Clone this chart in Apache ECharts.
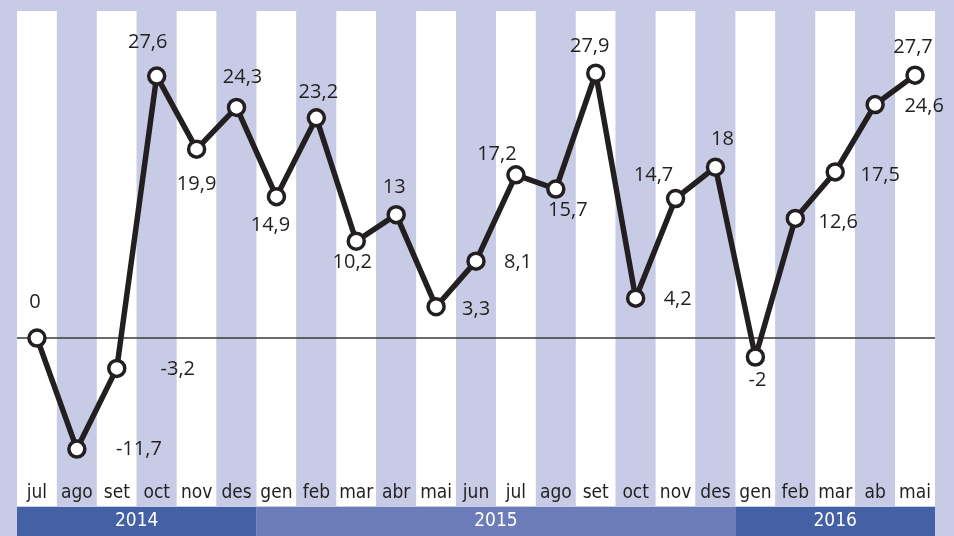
<!DOCTYPE html>
<html>
<head>
<meta charset="utf-8">
<script src="https://cdn.jsdelivr.net/npm/echarts@6/dist/echarts.min.js"></script>
<style>
  html, body { margin: 0; padding: 0; background: #c7cbe6; }
  #main { width: 954px; height: 536px; }
</style>
</head>
<body>
<div id="main"></div>
<script>
  // mesos (jul 2014 - mai 2016)
  var months = ['jul', 'ago', 'set', 'oct', 'nov', 'des', 'gen', 'feb', 'mar', 'abr', 'mai', 'jun',
    'jul', 'ago', 'set', 'oct', 'nov', 'des', 'gen', 'feb', 'mar', 'ab', 'mai']
  var values = [0, -11.7, -3.2, 27.6, 19.9, 24.3, 14.9, 23.2, 10.2, 13, 3.3, 8.1,
    17.2, 15.7, 27.9, 4.2, 14.7, 18, -2, 12.6, 17.5, 24.6, 27.7]
  var years = ['2014', '2015', '2016']
  var yearMonthCounts = [6, 12, 5]

  // on va cada etiqueta respecte al punt
  var labelOffsets = [[-2, -36], [62, 0], [61, 1], [-9, -34], [0, 35], [6, -30], [-6, 29], [2, -26],
    [-4, 21], [-2, -27], [40, 3], [42, 1], [-19, -21], [12, 21], [-6, -27], [42, 1], [-22, -23],
    [7, -28], [2, 23], [43, 4], [45, 3], [49, 2], [-2, -28]]
  var yearColors = ['#4361a4', '#6b7cb9', '#4361a4']
  var narrowFont = 'Liberation Sans Narrow, DejaVu Sans Condensed, sans-serif'

  var myChart = echarts.init(document.getElementById('main'))

  var yearSeries = years.map(function (y, i) {
    return {
      type: 'bar',
      stack: 'anys',
      xAxisIndex: 1,
      yAxisIndex: 1,
      barWidth: '100%',
      silent: true,
      itemStyle: { color: yearColors[i] },
      label: {
        show: true,
        position: 'inside',
        formatter: y,
        color: '#fff',
        fontSize: 19,
        fontFamily: narrowFont
      },
      data: [yearMonthCounts[i]]
    }
  })

  var option = {
    backgroundColor: '#c7cbe6',
    animation: false,
    grid: [
      { left: 17, right: 19, top: 11, bottom: 30 },
      { left: 17, right: 19, top: 507, bottom: 0 }
    ],
    xAxis: [
      {
        type: 'category',
        gridIndex: 0,
        data: months,
        boundaryGap: true,
        axisLine: { show: false },
        axisTick: { show: false },
        axisLabel: {
          inside: true,
          interval: 0,
          hideOverlap: false,
          margin: 3,
          color: '#231f20',
          fontSize: 19,
          fontFamily: narrowFont
        },
        splitArea: {
          show: true,
          interval: 0,
          areaStyle: { color: ['#ffffff', '#c7cbe6'] }
        }
      },
      {
        type: 'value',
        gridIndex: 1,
        min: 0,
        max: months.length,
        show: false
      }
    ],
    yAxis: [
      { type: 'value', gridIndex: 0, min: -17.7, max: 34.46, show: false },
      { type: 'category', gridIndex: 1, data: [''], show: false }
    ],
    series: [
      {
        type: 'line',
        z: 5,
        data: values.map(function (v, i) {
          return { value: v, label: { offset: labelOffsets[i] } }
        }),
        symbol: 'circle',
        symbolSize: 16,
        lineStyle: { color: '#231f20', width: 5.5 },
        itemStyle: { color: '#ffffff', borderColor: '#231f20', borderWidth: 3.5 },
        label: {
          show: true,
          position: 'inside',
          color: '#231f20',
          fontSize: 20,
          fontFamily: 'Open Sans, sans-serif',
          formatter: function (p) {
            return String(p.value).replace('.', ',')
          }
        },
        markLine: {
          silent: true,
          symbol: 'none',
          label: { show: false },
          lineStyle: { color: '#3a3a3a', width: 1.5, type: 'solid' },
          data: [{ yAxis: 0 }]
        }
      }
    ].concat(yearSeries)
  }

  myChart.setOption(option)
</script>
</body>
</html>
